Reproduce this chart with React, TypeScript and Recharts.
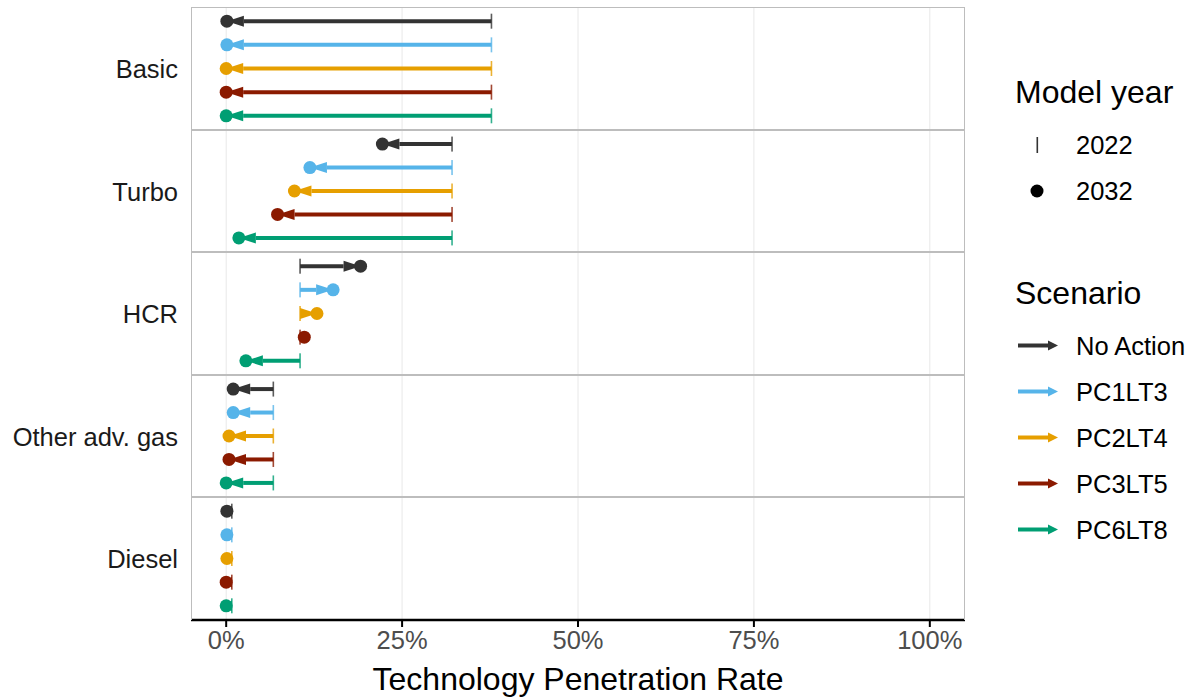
import React from 'react';
import { ScatterChart, Scatter, XAxis, YAxis, CartesianGrid } from 'recharts';

const TECHNOLOGIES = ['Basic', 'Turbo', 'HCR', 'Other adv. gas', 'Diesel'];
const SCENARIOS = ['No Action', 'PC1LT3', 'PC2LT4', 'PC3LT5', 'PC6LT8'];
const SCENARIO_COLORS = ['#333333', '#56B4E9', '#E69F00', '#8B1A00', '#009E73'];
const MODEL_YEARS = ['2022', '2032'];
const X_TICKS = [0, 25, 50, 75, 100];

// 2022 rate per technology (same starting point in every scenario)
const RATE_2022 = [37.7, 32.1, 10.5, 6.7, 0.8];
// 2032 rate per scenario, in SCENARIOS order
const BASIC_2032 = [0.1, 0.1, 0.0, 0.0, 0.0];
const TURBO_2032 = [22.2, 11.9, 9.7, 7.3, 1.8];
const HCR_2032 = [19.1, 15.2, 12.9, 11.1, 2.8];
const OTHER_2032 = [1.0, 1.0, 0.4, 0.4, 0.0];
const DIESEL_2032 = [0.1, 0.1, 0.1, 0.0, 0.0];
const RATE_2032 = [BASIC_2032, TURBO_2032, HCR_2032, OTHER_2032, DIESEL_2032];

const FONT = '"Liberation Sans", Arial, sans-serif';
const PLOT_LEFT = 191;
const PLOT_WIDTH = 774;
const PANEL_TOPS = [7, 130, 252, 375, 497];
const PANEL_HEIGHTS = [123, 122, 123, 122, 123];
const AXIS_HEIGHT = 60;

const pointShape = (color: string) => (props: any) => {
  const { cx, cy, payload } = props;
  if (cx == null || cy == null) return null;
  if (payload.year === MODEL_YEARS[0]) {
    return <rect x={cx - 0.8} y={cy - 7.5} width={1.6} height={15} fill={color} fillOpacity={0.8} />;
  }
  return <circle cx={cx} cy={cy} r={6.5} fill={color} />;
};

const arrowLine = (color: string) => (props: any) => {
  const pts = props.points || [];
  if (pts.length < 2) return null;
  const [a, b] = pts;
  const dx = b.x - a.x;
  const dir = dx >= 0 ? 1 : -1;
  const len = Math.min(17, Math.abs(dx));
  const baseX = b.x - dir * len;
  return (
    <g>
      <line x1={a.x} y1={a.y} x2={baseX} y2={b.y} stroke={color} strokeWidth={4} />
      {len > 0 && (
        <polygon points={`${b.x},${b.y} ${baseX},${b.y - 5.5} ${baseX},${b.y + 5.5}`} fill={color} />
      )}
    </g>
  );
};

function Panel({ index }: { index: number }) {
  const isLast = index === TECHNOLOGIES.length - 1;
  const h = PANEL_HEIGHTS[index];
  return (
    <div style={{ position: 'absolute', left: PLOT_LEFT, top: PANEL_TOPS[index] }}>
      <ScatterChart
        width={PLOT_WIDTH}
        height={h + (isLast ? AXIS_HEIGHT : 0)}
        margin={{ top: 0, right: 0, bottom: 0, left: 0 }}
      >
        <CartesianGrid horizontal={false} stroke="#e8e8e8" strokeWidth={1} />
        <XAxis
          type="number"
          dataKey="x"
          domain={[-5, 105]}
          ticks={X_TICKS}
          allowDataOverflow
          hide={!isLast}
          height={AXIS_HEIGHT}
          tickFormatter={(v: number) => `${v}%`}
          tick={{ fill: '#4d4d4d', fontSize: 25.5, fontFamily: FONT }}
          axisLine={{ stroke: '#000', strokeWidth: 2.5 }}
          tickLine={{ stroke: '#000', strokeWidth: 2 }}
          tickSize={7}
          tickMargin={4}
        />
        <YAxis type="number" dataKey="y" domain={[-0.6, 4.6]} reversed hide />
        {SCENARIOS.map((s, si) => (
          <Scatter
            key={s}
            name={s}
            data={[
              { x: RATE_2022[index], y: si, year: MODEL_YEARS[0] },
              { x: RATE_2032[index][si], y: si, year: MODEL_YEARS[1] },
            ]}
            fill={SCENARIO_COLORS[si]}
            line={arrowLine(SCENARIO_COLORS[si])}
            shape={pointShape(SCENARIO_COLORS[si])}
            isAnimationActive={false}
          />
        ))}
      </ScatterChart>
      <div
        style={{
          position: 'absolute',
          left: 0,
          top: 0,
          width: PLOT_WIDTH,
          height: h,
          boxSizing: 'border-box',
          border: '1px solid #bdbdbd',
          borderBottom: isLast ? 'none' : '1px solid #bdbdbd',
          pointerEvents: 'none',
        }}
      />
    </div>
  );
}

const LEGEND_ROWS = [355, 401, 447, 493, 539];

export default function App() {
  return (
    <div style={{ position: 'absolute', left: 0, top: 0, width: 1195, height: 698, background: '#fff', fontFamily: FONT }}>
      {TECHNOLOGIES.map((t, i) => (
        <Panel key={t} index={i} />
      ))}
      <svg width={1195} height={698} style={{ position: 'absolute', left: 0, top: 0, pointerEvents: 'none' }}>
        {TECHNOLOGIES.map((t, i) => (
          <text
            key={t}
            x={178}
            y={PANEL_TOPS[i] + PANEL_HEIGHTS[i] / 2 + 9.5}
            textAnchor="end"
            fontSize={25.5}
            fill="#1a1a1a"
            fontFamily={FONT}
          >
            {t}
          </text>
        ))}
        <text x={578} y={690} textAnchor="middle" fontSize={32} fill="#000" fontFamily={FONT}>
          Technology Penetration Rate
        </text>

        <text x={1015} y={103} fontSize={32} fill="#000" fontFamily={FONT}>Model year</text>
        <rect x={1036.5} y={137} width={1.6} height={16} fill="#333" />
        <text x={1076} y={154} fontSize={25.5} fill="#000" fontFamily={FONT}>{MODEL_YEARS[0]}</text>
        <circle cx={1037} cy={191} r={6.5} fill="#000" />
        <text x={1076} y={200} fontSize={25.5} fill="#000" fontFamily={FONT}>{MODEL_YEARS[1]}</text>

        <text x={1015} y={304} fontSize={32} fill="#000" fontFamily={FONT}>Scenario</text>
        {SCENARIOS.map((s, si) => {
          const y = LEGEND_ROWS[si] - 9.5;
          const c = SCENARIO_COLORS[si];
          return (
            <g key={s}>
              <line x1={1018} y1={y} x2={1049} y2={y} stroke={c} strokeWidth={4} />
              <polygon points={`1058,${y} 1048,${y - 5} 1048,${y + 5}`} fill={c} />
              <text x={1076} y={LEGEND_ROWS[si]} fontSize={25.5} fill="#000" fontFamily={FONT}>{s}</text>
            </g>
          );
        })}
      </svg>
    </div>
  );
}
